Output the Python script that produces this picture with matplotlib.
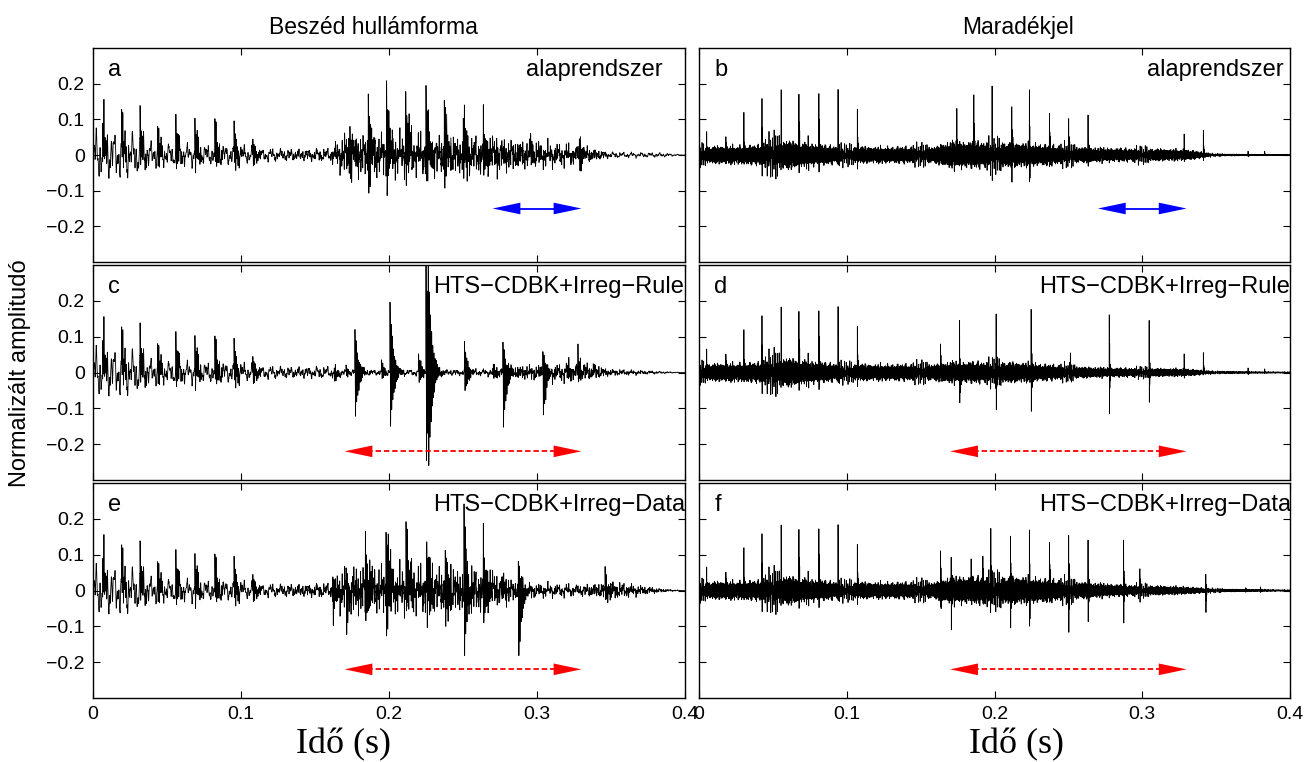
import numpy as np
import matplotlib
matplotlib.use('Agg')
import matplotlib.pyplot as plt

plt.rcParams['font.family'] = ['Liberation Sans', 'DejaVu Sans']

# ---- data ----
# voiced pulses of the first syllable, shared by a, c, e (time s, peak, trough)
voiced1_t = [0.0066, 0.0194, 0.0318, 0.0437, 0.0560, 0.0689, 0.0824, 0.0953, 0.1080]
voiced1_hi = [0.103, 0.106, 0.094, 0.078, 0.094, 0.094, 0.094, 0.082, 0.044]
voiced1_lo = [-0.040, -0.045, -0.040, -0.040, -0.045, -0.045, -0.045, -0.040, -0.035]

# second syllable pulses of the speech waveforms
a_t = [0.1736, 0.1860, 0.1984, 0.2113, 0.2250, 0.2374, 0.2502, 0.2637, 0.2727, 0.2957, 0.3286]
a_hi = [0.078, 0.183, 0.213, 0.192, 0.188, 0.167, 0.131, 0.099, 0.047, 0.045, 0.047]
a_lo = [-0.050, -0.080, -0.080, -0.074, -0.074, -0.074, -0.075, -0.070, -0.030, -0.030, -0.042]

c_t = [0.1630, 0.1710, 0.1770, 0.1950, 0.2007, 0.2200, 0.2250, 0.2265, 0.2510, 0.2705, 0.2770,
       0.3040, 0.3200, 0.3277, 0.3380]
c_hi = [0.010, 0.018, 0.121, 0.030, 0.196, 0.050, 0.330, 0.170, 0.079, 0.020, 0.088,
        0.060, 0.030, 0.055, 0.025]
c_lo = [-0.034, -0.010, -0.123, -0.020, -0.156, -0.030, -0.250, -0.150, -0.057, -0.020, -0.156,
        -0.118, -0.020, -0.020, -0.015]

e_t = [0.1620, 0.1710, 0.1840, 0.1980, 0.2115, 0.2255, 0.2380, 0.2507, 0.2637, 0.2760, 0.2874, 0.3460]
e_hi = [0.040, 0.040, 0.164, 0.230, 0.211, 0.150, 0.117, 0.216, 0.146, 0.060, 0.085, 0.056]
e_lo = [-0.089, -0.085, -0.089, -0.122, -0.075, -0.099, -0.131, -0.174, -0.103, -0.030, -0.192, -0.033]

# slow (formant) wiggle envelope and dense texture envelope of the speech panels
sp_env_t = [0.0, 0.028, 0.045, 0.100, 0.112, 0.160, 0.170, 0.265, 0.290, 0.330, 0.350, 0.385, 0.400]
a_lf = [0.050, 0.040, 0.020, 0.018, 0.010, 0.010, 0.020, 0.020, 0.015, 0.010, 0.005, 0.004, 0.0]
c_lf = [0.050, 0.040, 0.020, 0.018, 0.010, 0.010, 0.005, 0.005, 0.005, 0.012, 0.004, 0.002, 0.0]
e_lf = [0.050, 0.040, 0.020, 0.018, 0.010, 0.010, 0.020, 0.020, 0.008, 0.008, 0.010, 0.002, 0.0]
a_hf = [0.004, 0.004, 0.004, 0.004, 0.004, 0.006, 0.030, 0.025, 0.020, 0.012, 0.002, 0.001, 0.0]
c_hf = [0.004, 0.004, 0.004, 0.004, 0.004, 0.004, 0.002, 0.003, 0.010, 0.012, 0.004, 0.001, 0.0]
e_hf = [0.004, 0.004, 0.004, 0.004, 0.004, 0.008, 0.035, 0.030, 0.010, 0.006, 0.012, 0.002, 0.0]

# residual spikes of the first syllable, shared by b, d, f
res1_t = [0.0052, 0.0182, 0.0304, 0.0426, 0.0556, 0.0676, 0.0739, 0.0811, 0.0941, 0.1072]
res1_hi = [0.068, 0.063, 0.099, 0.152, 0.174, 0.183, 0.066, 0.192, 0.188, 0.122]
res1_lo = [-0.015, -0.020, -0.020, -0.030, -0.060, -0.030, -0.052, -0.050, -0.030, -0.020]

b_t = [0.1745, 0.1860, 0.1984, 0.2117, 0.2236, 0.2372, 0.2502, 0.2633, 0.3284, 0.3414, 0.3716, 0.3829]
b_hi = [0.144, 0.197, 0.192, 0.158, 0.158, 0.131, 0.103, 0.099, 0.056, 0.068, 0.008, 0.010]
b_lo = [-0.030, -0.030, -0.040, -0.080, -0.070, -0.030, -0.020, -0.020, -0.010, -0.020, -0.003, -0.003]

d_t = [0.1635, 0.1764, 0.2011, 0.2248, 0.2514, 0.2777, 0.3047, 0.3284, 0.3414, 0.3716, 0.3829]
d_hi = [0.090, 0.140, 0.159, 0.190, 0.055, 0.176, 0.151, 0.050, 0.055, 0.010, 0.010]
d_lo = [-0.020, -0.115, -0.100, -0.115, -0.020, -0.121, -0.085, -0.010, -0.010, -0.004, -0.004]

f_t = [0.1635, 0.1707, 0.1842, 0.1921, 0.1975, 0.2108, 0.2236, 0.2372, 0.2502, 0.2633, 0.2874,
       0.2984, 0.3430, 0.3700, 0.3800]
f_hi = [0.122, 0.108, 0.127, 0.070, 0.157, 0.171, 0.141, 0.150, 0.155, 0.127, 0.141,
        0.060, 0.040, 0.008, 0.008]
f_lo = [-0.075, -0.096, -0.030, -0.030, -0.040, -0.103, -0.093, -0.030, -0.122, -0.075, -0.089,
        -0.020, -0.061, -0.003, -0.003]

# residual noise band envelopes
res_env_t = [0.0, 0.040, 0.050, 0.070, 0.100, 0.110, 0.160, 0.170, 0.220, 0.260, 0.290, 0.330, 0.348, 0.400]
b_env = [0.015, 0.018, 0.030, 0.022, 0.014, 0.015, 0.015, 0.025, 0.022, 0.014, 0.012, 0.010, 0.002, 0.001]
d_env = [0.015, 0.018, 0.030, 0.022, 0.014, 0.015, 0.015, 0.020, 0.018, 0.010, 0.008, 0.007, 0.002, 0.001]
f_env = [0.015, 0.018, 0.030, 0.022, 0.014, 0.015, 0.015, 0.025, 0.025, 0.015, 0.010, 0.007, 0.003, 0.001]

panel_letters = ['a', 'b', 'c', 'd', 'e', 'f']
system_names = ['alaprendszer', 'HTS\u2212CDBK+Irreg\u2212Rule', 'HTS\u2212CDBK+Irreg\u2212Data']
col_titles = ['Beszéd hullámforma', 'Maradékjel']
arrow_span = [(0.27, 0.33), (0.17, 0.33), (0.17, 0.33)]
arrow_y = [-0.15, -0.22, -0.22]

fs = 16000
t = np.arange(0, 0.4, 1 / fs)


def ring(t0, hi, lo, f, tau):
    # one excitation pulse: damped oscillation, positive lobes scaled to hi, negative to lo
    t0 = round(t0 * fs) / fs
    out = np.zeros_like(t)
    dt = t - t0
    on = (dt > -0.5 / fs) & (dt < 8 * tau)
    d = np.clip(dt[on], 0, None)
    r = np.exp(-d / tau) * np.cos(2 * np.pi * f * d)
    k = np.exp(-0.5 / (f * tau))
    out[on] = np.where(r > 0, r * hi, r * (-lo) / k)
    return out


def texture(freqs, norm):
    s = sum(np.sin(2 * np.pi * fr * t + 1.7 * i) / (1 + 0.15 * i) for i, fr in enumerate(freqs))
    return s / (norm * s.std())


lf_tex = texture([160, 410, 780], 1.4)
sp_tex = texture([1130, 1770, 2410, 3050], 1.6)
res_tex = texture([2030, 2890, 3710, 4630, 5470, 6350, 7130], 1.3)


def speech(pt, phi, plo, lf, hf):
    y = np.interp(t, sp_env_t, lf) * lf_tex + np.interp(t, sp_env_t, hf) * sp_tex
    for t0, hi, lo in zip(voiced1_t + pt, voiced1_hi + phi, voiced1_lo + plo):
        y += ring(t0, hi, lo, 1300, 0.0022)
    return y


def residual(pt, phi, plo, env):
    y = np.interp(t, res_env_t, env) * res_tex
    for t0, hi, lo in zip(res1_t + pt, res1_hi + phi, res1_lo + plo):
        y += ring(t0, hi, lo, 4000, 0.0003)
    return y


signals = [
    speech(a_t, a_hi, a_lo, a_lf, a_hf), residual(b_t, b_hi, b_lo, b_env),
    speech(c_t, c_hi, c_lo, c_lf, c_hf), residual(d_t, d_hi, d_lo, d_env),
    speech(e_t, e_hi, e_lo, e_lf, e_hf), residual(f_t, f_hi, f_lo, f_env),
]

W, H = 1311, 762
fig = plt.figure(figsize=(W / 100, H / 100), dpi=100)
col_x = [(93, 592), (699, 591)]
row_y = [(48, 214), (265, 215), (483, 215)]
name_x = [[0.731, 0.575, 0.575], [0.7575, 0.576, 0.576]]

for i, y in enumerate(signals):
    r, c = divmod(i, 2)
    x0, w = col_x[c]
    top, h = row_y[r]
    ax = fig.add_axes([x0 / W, (H - top - h) / H, w / W, h / H])
    ax.plot(t, y, color='black', lw=0.6)
    ax.set_xlim(0, 0.4)
    ax.set_ylim(-0.3, 0.3)
    ax.set_xticks([0, 0.1, 0.2, 0.3, 0.4])
    ax.set_yticks([-0.2, -0.1, 0, 0.1, 0.2])
    ax.tick_params(direction='in', length=5, top=True, right=True, labelsize=14, pad=6)
    if c == 0:
        ax.set_yticklabels(['\u22120.2', '\u22120.1', '0', '0.1', '0.2'])
    else:
        ax.set_yticklabels([])
    if r == 2:
        ax.set_xticklabels(['0', '0.1', '0.2', '0.3', '0.4'])
    else:
        ax.set_xticklabels([])
    for sp in ax.spines.values():
        sp.set_linewidth(1.0)
    ax.text(0.026, 0.87, panel_letters[i], transform=ax.transAxes, fontsize=17, va='baseline')
    ax.text(name_x[c][r], 0.87, system_names[r], transform=ax.transAxes, fontsize=17,
            va='baseline', ha='left')

    x1, x2 = arrow_span[r]
    ya = arrow_y[r]
    col = 'blue' if r == 0 else 'red'
    ls = '-' if r == 0 else (0, (3, 1.6))
    ax.plot([x1 + 0.01, x2 - 0.01], [ya, ya], color=col, lw=1.3, linestyle=ls)
    for tip, back in [(x1, x1 + 0.005), (x2, x2 - 0.005)]:
        ax.annotate('', xy=(tip, ya), xytext=(back, ya),
                    arrowprops=dict(arrowstyle='-|>,head_length=2.0,head_width=0.42',
                                    mutation_scale=10, color=col, lw=0,
                                    shrinkA=0, shrinkB=0))

fig.text(373 / W, 1 - 34 / H, col_titles[0], fontsize=16.5, ha='center', va='baseline')
fig.text(1018 / W, 1 - 34 / H, col_titles[1], fontsize=16.5, ha='center', va='baseline')
fig.text(20 / W, 1 - 373 / H, 'Normalizált amplitudó', fontsize=17, rotation=90,
         ha='center', va='center')
for xc in [343, 1017]:
    fig.text(xc / W, 1 - 753 / H, 'Idő (s)', fontsize=26, family='Liberation Serif',
             ha='center', va='baseline')

fig.savefig('out.png', dpi=100)
